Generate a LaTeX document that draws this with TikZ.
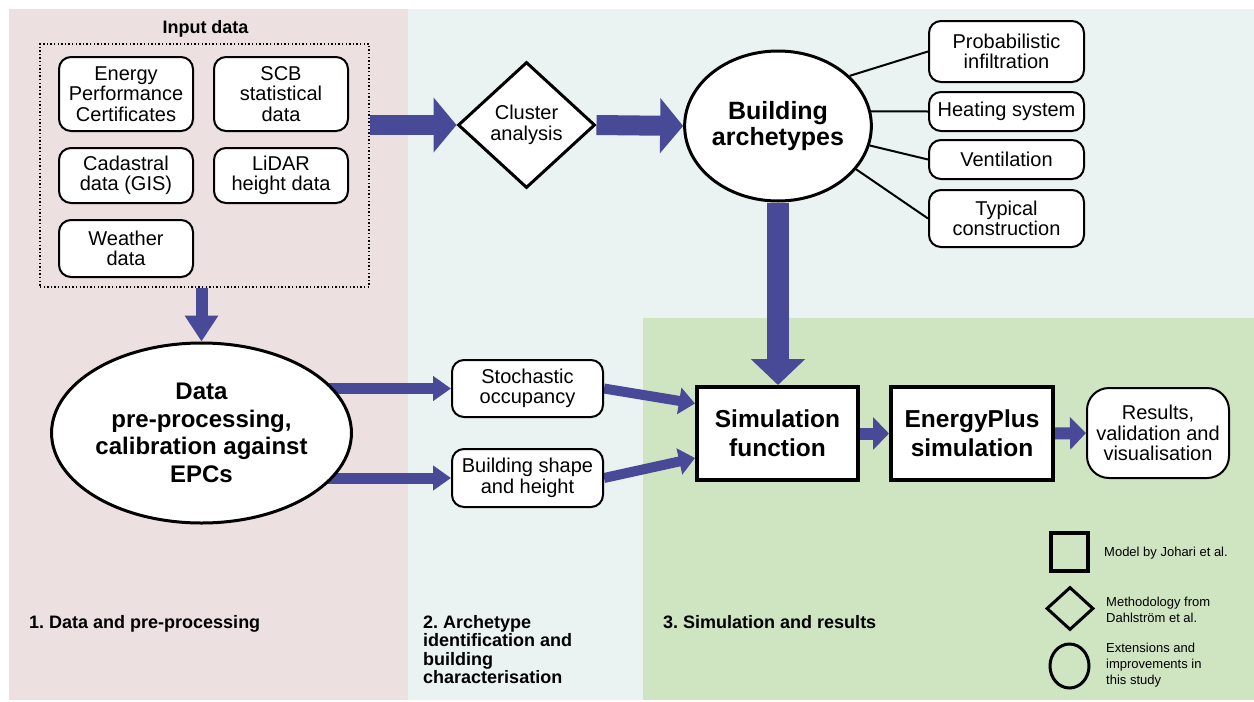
\documentclass[tikz,border=0pt]{standalone}
\usepackage{fontspec}
\setmainfont{Liberation Sans}
\frenchspacing
\usetikzlibrary{shapes.geometric,arrows.meta,calc}
\pgfdeclarelayer{bg}
\pgfdeclarelayer{arr}
\pgfsetlayers{bg,arr,main}
\definecolor{pinkbg}{RGB}{237,224,225}
\definecolor{bluebg}{RGB}{234,243,242}
\definecolor{greenbg}{RGB}{207,228,193}
\definecolor{arrblue}{RGB}{72,74,152}
\begin{document}
\begin{tikzpicture}[x=1pt,y=-1pt,
  rbox/.style={draw, line width=2pt, rounded corners=12pt, fill=white, align=center, inner sep=0pt, font=\fontsize{20}{20.5}\selectfont},
  sqbox/.style={draw, line width=4pt, fill=white, align=center, inner sep=0pt, font=\bfseries\fontsize{24.5}{29}\selectfont},
  ell/.style={ellipse, draw, line width=3pt, fill=white, align=center, inner sep=0pt},
  dia/.style={diamond, draw, line width=3pt, fill=white, align=center, inner sep=0pt},
  bigarrow/.style={arrblue, line width=20pt, -{Triangle[width=54pt,length=23pt]}},
  vbigarrow/.style={arrblue, line width=22pt, -{Triangle[width=53pt,length=26pt]}},
  midarrow/.style={arrblue, line width=12pt, -{Triangle[width=32pt,length=26pt]}},
  smallarrow/.style={arrblue, line width=11pt, -{Triangle[width=24pt,length=18pt]}},
  slimarrow/.style={arrblue, line width=10pt, -{Triangle[width=26pt,length=16pt]}},
  chainarrow/.style={arrblue, line width=12pt, -{Triangle[width=32pt,length=16pt]}},
  sectlabel/.style={anchor=north west, align=left, inner sep=0pt, font=\bfseries\fontsize{18}{18.5}\selectfont},
  legtext/.style={anchor=west, align=left, inner sep=0pt, font=\fontsize{13}{16}\selectfont},
  spoke/.style={draw, line width=2pt}
]
\useasboundingbox (0,0) rectangle (1254,702);
\begin{pgfonlayer}{bg}
  \fill[pinkbg] (9,9) rectangle (408,700);
  \fill[bluebg] (408,9) rectangle (1254,700);
  \fill[greenbg] (643,318) rectangle (1254,700);
\end{pgfonlayer}

% input data
\node[anchor=base, inner sep=0pt, font=\bfseries\fontsize{18}{20}\selectfont] (intitle) at (205.5,33.5) {Input data};
\node[draw, line width=1.6pt, dash pattern=on 1.4pt off 2.2pt, minimum width=329pt, minimum height=243pt, inner sep=0pt] (inbox) at (204.5,165.5) {};
\node[rbox, minimum width=134pt, minimum height=74pt] (epc) at (126,94) {Energy\\Performance\\Certificates};
\node[rbox, minimum width=134pt, minimum height=74pt] (scb) at (281,94) {SCB\\statistical\\data};
\node[rbox, minimum width=134pt, minimum height=55pt] (cad) at (126,175.5) {Cadastral\\data (GIS)};
\node[rbox, minimum width=134pt, minimum height=55pt] (lidar) at (281,175.5) {LiDAR\\height data};
\node[rbox, minimum width=134pt, minimum height=57pt] (weather) at (126,248.5) {Weather\\data};

% archetype part
\node[dia, minimum width=137pt, minimum height=126pt, aspect=1.087, font=\fontsize{20}{20.5}\selectfont] (cluster) at (526.5,125) {Cluster\\analysis};
\node[ell, minimum width=184pt, minimum height=150pt, font=\bfseries\fontsize{25}{26}\selectfont] (arch) at (778,126) {Building\\archetypes};
\node[rbox, minimum width=155pt, minimum height=61pt] (prob) at (1006.5,51.5) {Probabilistic\\infiltration};
\node[rbox, minimum width=155pt, minimum height=39pt] (heat) at (1006.5,111.5) {Heating system};
\node[rbox, minimum width=155pt, minimum height=39pt] (vent) at (1006.5,159.5) {Ventilation};
\node[rbox, minimum width=155pt, minimum height=57pt] (typ) at (1006.5,218.5) {Typical\\construction};
\draw[spoke] (arch.35) -- (prob.west);
\draw[spoke] (arch.9) -- (heat.west);
\draw[spoke] (arch.-12) -- (vent.west);
\draw[spoke] (arch.-29) -- (typ.west);

% data pre-processing
\node[ell, minimum width=293pt, minimum height=180pt, font=\bfseries\fontsize{24}{27.5}\selectfont] (data) at (201.5,433) {Data\\pre-processing,\\calibration against\\EPCs};
\node[rbox, minimum width=151pt, minimum height=57pt] (stoch) at (527.5,388.5) {Stochastic\\occupancy};
\node[rbox, minimum width=151pt, minimum height=58pt] (bshape) at (527.5,478) {Building shape\\and height};

% simulation
\node[sqbox, minimum width=161pt, minimum height=93pt] (sim) at (777.5,433.5) {Simulation\\function};
\node[sqbox, minimum width=162pt, minimum height=93pt] (eplus) at (972,433.5) {EnergyPlus\\simulation};
\node[rbox, minimum width=142pt, minimum height=90pt, rounded corners=22pt] (results) at (1158,433) {Results,\\validation and\\visualisation};

% arrows
\begin{pgfonlayer}{arr}
  \draw[bigarrow] (inbox.east |- cluster.west) -- (cluster.west);
  \draw[bigarrow] (cluster.east) -- (arch.west);
  \draw[vbigarrow] (arch.south) -- (arch.south |- sim.north);
  \draw[midarrow] (data.north |- inbox.south) -- (data.north);
  \draw[smallarrow] (data.center |- stoch.west) -- (stoch.west);
  \draw[smallarrow] (data.center |- bshape.west) -- (bshape.west);
  \draw[slimarrow] (stoch.east) -- ([yshift=30pt]sim.west);
  \draw[slimarrow] (bshape.east) -- ([yshift=-24.5pt]sim.west);
  \draw[chainarrow] (sim.east) -- (eplus.west);
  \draw[chainarrow] (eplus.east) -- (results.west);
\end{pgfonlayer}

% section labels
\node[sectlabel] (s1) at (29,615) {1. Data and pre-processing};
\node[sectlabel] (s2) at (423,615) {2. Archetype\\identification and\\building\\characterisation};
\node[sectlabel] (s3) at (663,615) {3. Simulation and results};

% legend
\node[draw, line width=4pt, minimum width=37pt, minimum height=38pt, inner sep=0pt] (legsq) at (1069.5,552) {};
\node[diamond, draw, line width=3pt, minimum width=47pt, minimum height=43pt, inner sep=0pt] (legdia) at (1070,608.5) {};
\node[ellipse, draw, line width=3pt, minimum width=39pt, minimum height=44pt, inner sep=0pt] (legcirc) at (1069.5,666) {};
\node[legtext] (lt1) at (1104,553) {Model by Johari et al.};
\node[legtext] (lt2) at (1106,610) {Methodology from\\Dahlström et al.};
\node[legtext] (lt3) at (1106,665) {Extensions and\\improvements in\\this study};
\end{tikzpicture}
\end{document}
